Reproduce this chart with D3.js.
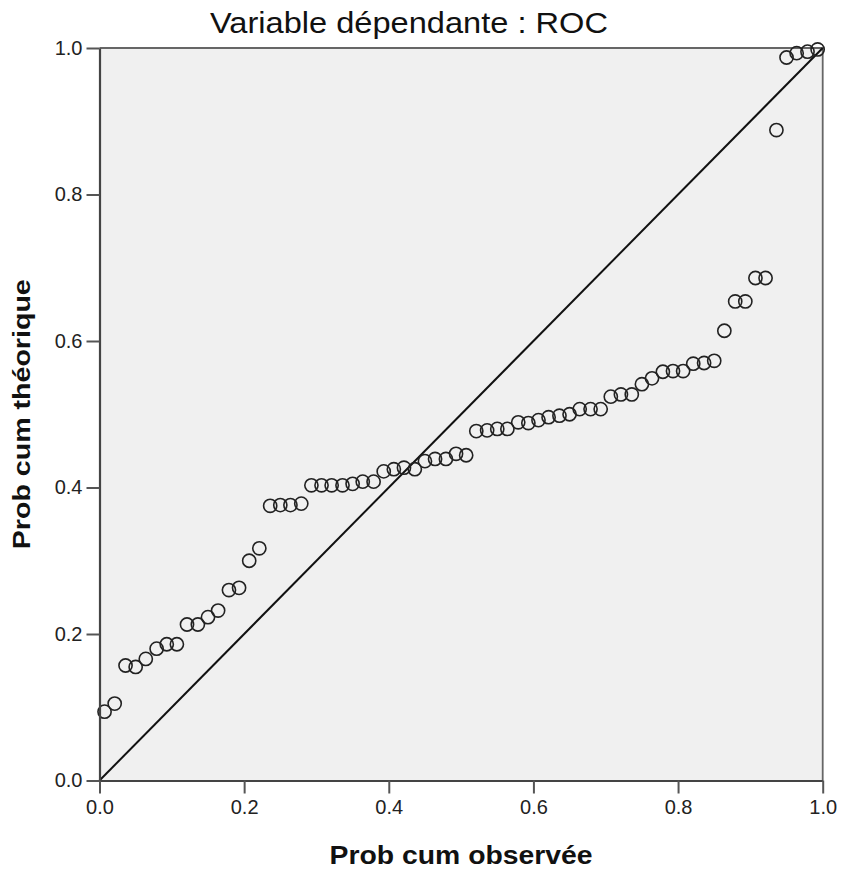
<!DOCTYPE html>
<html>
<head>
<meta charset="utf-8">
<script src="https://cdn.jsdelivr.net/npm/d3@7"></script>
<style>
  body { margin: 0; background: #fff; }
  svg { display: block; }
</style>
</head>
<body>
<svg id="chart" width="841" height="870"></svg>
<script>
// P-P plot, residus standardises
var chartTitle = "Variable dépendante : ROC",
    xTitle = "Prob cum observée",
    yTitle = "Prob cum théorique";

var tickValues = [0, 0.2, 0.4, 0.6, 0.8, 1.0];

var observed = [
  0.007, 0.021, 0.036, 0.050, 0.064, 0.079, 0.093, 0.107, 0.121, 0.136,
  0.150, 0.164, 0.179, 0.193, 0.207, 0.221, 0.236, 0.250, 0.264, 0.279,
  0.293, 0.307, 0.321, 0.336, 0.350, 0.364, 0.379, 0.393, 0.407, 0.421,
  0.436, 0.450, 0.464, 0.479, 0.493, 0.507, 0.521, 0.536, 0.550, 0.564,
  0.579, 0.593, 0.607, 0.621, 0.636, 0.650, 0.664, 0.679, 0.693, 0.707,
  0.721, 0.736, 0.750, 0.764, 0.779, 0.793, 0.807, 0.821, 0.836, 0.850,
  0.864, 0.879, 0.893, 0.907, 0.921, 0.936, 0.950, 0.964, 0.979, 0.993
];

// prob cum theorique
var expected = [
  0.094, 0.105, 0.157, 0.155, 0.166, 0.180, 0.186, 0.186, 0.213, 0.213,
  0.223, 0.232, 0.260, 0.263, 0.300, 0.317, 0.375, 0.376, 0.376, 0.378,
  0.403, 0.403, 0.403, 0.403, 0.405, 0.408, 0.408, 0.422, 0.425, 0.427,
  0.425, 0.436, 0.439, 0.439, 0.446, 0.444, 0.477, 0.478, 0.480, 0.480,
  0.489, 0.488, 0.492, 0.496, 0.498, 0.500, 0.507, 0.507, 0.507, 0.524,
  0.527, 0.527, 0.541, 0.549, 0.558, 0.559, 0.559, 0.569, 0.570, 0.573,
  0.614, 0.654, 0.654, 0.686, 0.686, 0.888, 0.987, 0.993, 0.995, 0.998
];

var points = observed.map(function(d, i) { return {x: d, y: expected[i]}; });

var plotLeft = 99.5, plotRight = 822.7, plotTop = 48, plotBottom = 780.5;

var svg = d3.select("#chart");

var x = d3.scaleLinear().domain([0, 1]).range([plotLeft, plotRight]);
var y = d3.scaleLinear().domain([0, 1]).range([plotBottom, plotTop]);

// fond de la zone de trace
svg.append("rect")
    .attr("x", plotLeft)
    .attr("y", plotTop)
    .attr("width", plotRight - plotLeft)
    .attr("height", plotBottom - plotTop)
    .attr("fill", "#f0f0f0");

// cadre haut + droite
svg.append("path")
    .attr("d", "M" + plotLeft + "," + plotTop + "H" + plotRight + "V" + plotBottom)
    .attr("fill", "none")
    .attr("stroke", "#666")
    .attr("stroke-width", 1.8);

// droite de reference
svg.append("line")
    .attr("x1", x(0)).attr("y1", y(0))
    .attr("x2", x(1)).attr("y2", y(1))
    .attr("stroke", "#111")
    .attr("stroke-width", 2);

svg.append("g")
    .selectAll("circle")
    .data(points)
    .enter().append("circle")
    .attr("cx", function(d) { return x(d.x); })
    .attr("cy", function(d) { return y(d.y); })
    .attr("r", 6.6)
    .attr("fill", "none")
    .attr("stroke", "#222")
    .attr("stroke-width", 1.6);

var fmt = d3.format(".1f");

var xAxis = svg.append("g")
    .attr("transform", "translate(0," + plotBottom + ")")
    .call(d3.axisBottom(x).tickValues(tickValues).tickFormat(fmt)
        .tickSize(13).tickSizeOuter(0).tickPadding(6));

var yAxis = svg.append("g")
    .attr("transform", "translate(" + plotLeft + ",0)")
    .call(d3.axisLeft(y).tickValues(tickValues).tickFormat(fmt)
        .tickSize(13).tickSizeOuter(0).tickPadding(4));

[xAxis, yAxis].forEach(function(a) {
    a.attr("font-size", null).attr("font-family", null);
    a.select(".domain").attr("stroke", "#444").attr("stroke-width", 2.2);
    a.selectAll(".tick line").attr("stroke", "#555").attr("stroke-width", 2);
    a.selectAll(".tick text")
        .attr("fill", "#222")
        .style("font-family", "'Liberation Sans', Arial, sans-serif")
        .style("font-size", "20px");
});

// titres
svg.append("text")
    .attr("x", 409)
    .attr("y", 33)
    .attr("text-anchor", "middle")
    .attr("textLength", 398)
    .attr("lengthAdjust", "spacingAndGlyphs")
    .style("font-family", "'Liberation Sans', Arial, sans-serif")
    .style("font-size", "30px")
    .attr("fill", "#111")
    .text(chartTitle);

svg.append("text")
    .attr("x", (plotLeft + plotRight) / 2)
    .attr("y", 864)
    .attr("text-anchor", "middle")
    .attr("textLength", 263)
    .attr("lengthAdjust", "spacingAndGlyphs")
    .style("font-family", "'Liberation Sans', Arial, sans-serif")
    .style("font-size", "25px")
    .style("font-weight", "bold")
    .attr("fill", "#111")
    .text(xTitle);

svg.append("text")
    .attr("transform", "translate(30," + (plotTop + plotBottom) / 2 + ") rotate(-90)")
    .attr("text-anchor", "middle")
    .attr("textLength", 270)
    .attr("lengthAdjust", "spacingAndGlyphs")
    .style("font-family", "'Liberation Sans', Arial, sans-serif")
    .style("font-size", "24px")
    .style("font-weight", "bold")
    .attr("fill", "#111")
    .text(yTitle);
</script>
</body>
</html>
